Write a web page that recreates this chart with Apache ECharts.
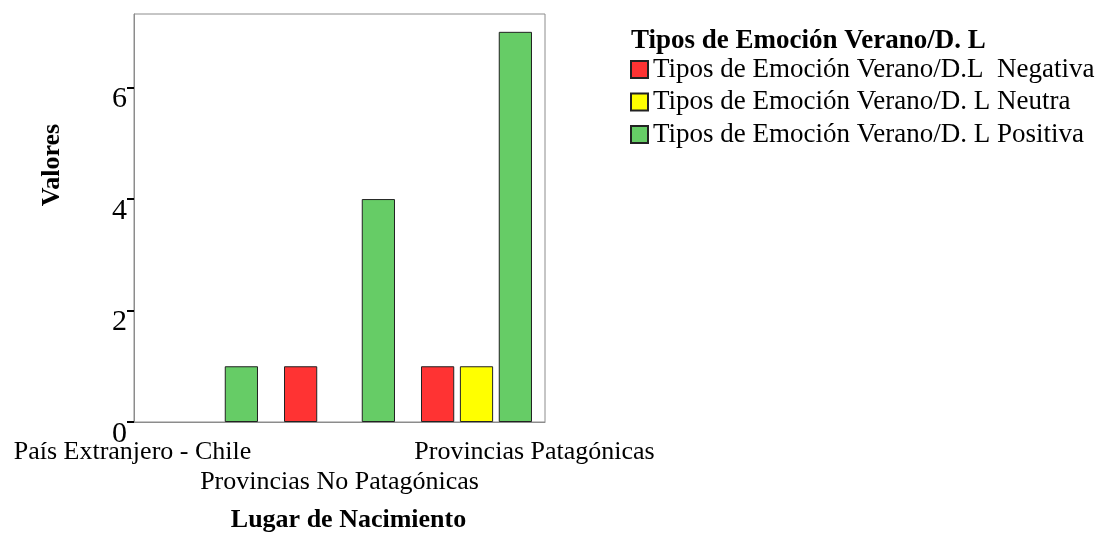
<!DOCTYPE html>
<html>
<head>
<meta charset="utf-8">
<script src="https://cdn.jsdelivr.net/npm/echarts@6/dist/echarts.min.js"></script>
<style>
  html, body { margin: 0; padding: 0; background: #fff; }
  #chart { width: 1099px; height: 538px; }
</style>
</head>
<body>
<div id="chart"></div>
<script>
// categories and values
const categories = ['País Extranjero - Chile', 'Provincias No Patagónicas', 'Provincias Patagónicas'];
const negativa = [0, 1, 1];
const neutra = [0, 0, 1];
const positiva = [1, 4, 7];
const seriesNames = [
  'Tipos de Emoción Verano/D.L  Negativa',
  'Tipos de Emoción Verano/D. L Neutra',
  'Tipos de Emoción Verano/D. L Positiva',
];
const yTicks = [0, 2, 4, 6];

const serif = '"Liberation Serif", "DejaVu Serif", serif';
const colors = ['#ff3333', '#ffff00', '#66cc66'];

const chart = echarts.init(document.getElementById('chart'));

// empty groups are not drawn in the original, so zero counts become gaps
const barSeries = [negativa, neutra, positiva].map((data, i) => ({
  name: seriesNames[i],
  type: 'bar',
  data: data.map((v) => (v === 0 ? '-' : v)),
  barGap: '17%',
  barCategoryGap: '19%',
  itemStyle: { color: colors[i], borderColor: '#222', borderWidth: 1 },
}));

chart.setOption({
  backgroundColor: '#fff',
  animation: false,
  textStyle: { fontFamily: serif },
  grid: {
    left: 134,
    top: 14,
    width: 411,
    height: 409,
    show: true,
    borderColor: '#8c8c8c',
    borderWidth: 1,
  },
  title: {
    text: 'Tipos de Emoción Verano/D. L',
    left: 631,
    top: 28,
    padding: 0,
    textStyle: { fontFamily: serif, fontSize: 27, fontWeight: 'bold', color: '#000', lineHeight: 26 },
  },
  legend: {
    orient: 'vertical',
    left: 630,
    top: 56,
    padding: 0,
    icon: 'rect',
    itemWidth: 17,
    itemHeight: 17,
    itemGap: 5.5,
    textStyle: { fontFamily: serif, fontSize: 27, lineHeight: 26, color: '#000' },
    data: seriesNames,
  },
  xAxis: {
    type: 'category',
    data: categories,
    name: 'Lugar de Nacimiento',
    nameLocation: 'middle',
    nameGap: 85,
    nameTextStyle: { fontFamily: serif, fontSize: 26, fontWeight: 'bold', color: '#000', padding: [0, 0, 0, 18] },
    axisLine: { lineStyle: { color: '#8c8c8c', width: 1 } },
    axisTick: { alignWithLabel: true, length: 9, lineStyle: { color: '#000', width: 2 } },
    axisLabel: {
      interval: 0,
      margin: 15,
      fontFamily: serif,
      formatter: (v, i) => (i === 0 ? '{a|' + v + '}' : i === 2 ? '{c|' + v + '}' : '{b|' + v + '}'),
      rich: {
        a: { fontFamily: serif, fontSize: 26, color: '#000', lineHeight: 30, padding: [0, 140, 0, 0] },
        b: { fontFamily: serif, fontSize: 26, color: '#000', lineHeight: 30, padding: [60, 0, 0, 0] },
        c: { fontFamily: serif, fontSize: 26, color: '#000', lineHeight: 30, padding: [0, 0, 0, 116] },
      },
    },
  },
  yAxis: {
    type: 'value',
    min: 0,
    max: 7.32,
    interval: 2,
    name: 'Valores',
    nameLocation: 'middle',
    nameGap: 69,
    nameTextStyle: { fontFamily: serif, fontSize: 26, fontWeight: 'bold', color: '#000', padding: [0, 0, 0, 106] },
    splitLine: { show: false },
    axisLine: { show: true, lineStyle: { color: '#8c8c8c', width: 1 } },
    axisTick: { show: true, length: 7, customValues: yTicks, lineStyle: { color: '#000', width: 2 } },
    axisLabel: {
      customValues: yTicks,
      margin: 7,
      fontFamily: serif,
      fontSize: 30,
      color: '#000',
      verticalAlign: 'middle',
      formatter: (v) => '{n|' + v + '}',
      rich: {
        n: { fontFamily: serif, fontSize: 30, fontWeight: 'normal', color: '#000', lineHeight: 30, padding: [24, 0, 0, 0] },
      },
    },
  },
  series: barSeries,
});
</script>
</body>
</html>
